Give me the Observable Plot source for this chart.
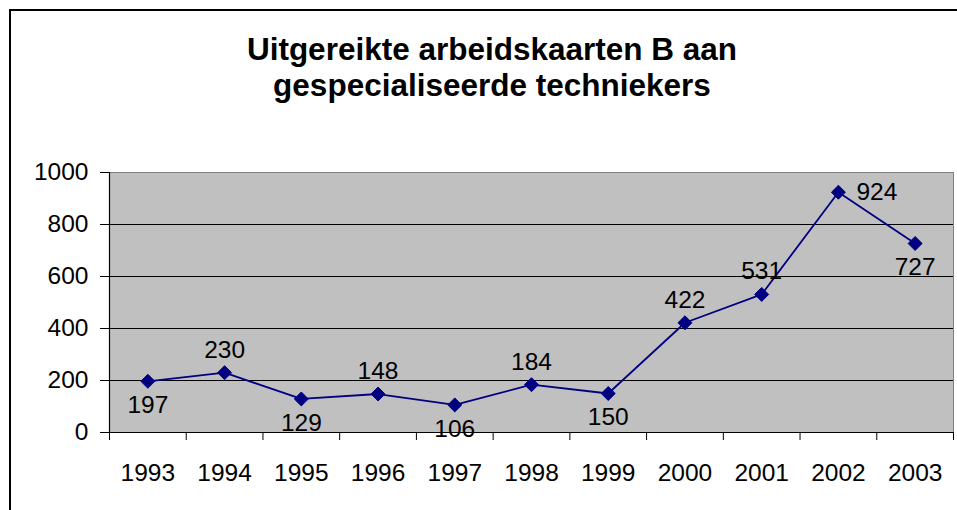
<!DOCTYPE html>
<html><head><meta charset="utf-8">
<script src="https://cdn.jsdelivr.net/npm/d3@7"></script>
<script src="https://cdn.jsdelivr.net/npm/@observablehq/plot@0.6"></script>
<style>
html,body{margin:0;padding:0;background:#fff;overflow:hidden;width:957px;height:510px;}
#frame{position:absolute;left:9px;top:9px;width:1000px;height:600px;border:2px solid #000;box-sizing:border-box;z-index:2;pointer-events:none;}
#title{position:absolute;left:0;width:984px;top:31px;text-align:center;font:bold 31.5px "Liberation Sans",Arial,sans-serif;line-height:36px;color:#000;}
#chart{position:absolute;left:0;top:150px;}
</style></head><body>
<div id="frame"></div>
<div id="title">Uitgereikte arbeidskaarten B aan<br>gespecialiseerde techniekers</div>
<div id="chart"></div>
<script>
const years = [1993, 1994, 1995, 1996, 1997, 1998, 1999, 2000, 2001, 2002, 2003];
const values = [197, 230, 129, 148, 106, 184, 150, 422, 531, 924, 727];
const labelPlacement = ["below", "above", "below", "above", "below", "above", "below", "above", "above", "right", "below"];
const yTicks = [0, 200, 400, 600, 800, 1000];

const data = years.map((year, i) => ({year, value: values[i], place: labelPlacement[i]}));
const xMin = years[0] - 0.5, xMax = years[years.length - 1] + 0.5;
const bounds = d3.range(years.length + 1).map(i => xMin + i);
const grid = yTicks.filter(t => t > 0 && t < 1000);
const navy = "#000080";
const font = "'Liberation Sans', Arial, sans-serif";

const chart = Plot.plot({
  width: 957,
  height: 360,
  marginLeft: 109,
  marginRight: 4,
  marginTop: 22,
  marginBottom: 78,
  style: {fontFamily: font, fontSize: "24px", background: "transparent", color: "#000"},
  x: {type: "linear", domain: [xMin, xMax]},
  y: {domain: [0, 1000]},
  marks: [
    Plot.frame({fill: "#C0C0C0"}),
    Plot.frame({stroke: "#808080"}),
    Plot.ruleY(grid, {stroke: "#000", strokeWidth: 1}),
    Plot.ruleX([xMin], {stroke: "#000", strokeWidth: 1.2}),
    Plot.ruleY([0], {stroke: "#000", strokeWidth: 1.2}),
    Plot.axisY({ticks: yTicks, tickSize: 9, tickPadding: 12, tickFormat: d => String(d), label: null, fontSize: 24.5}),
    Plot.axisX({ticks: bounds, tickSize: 8, tickFormat: () => "", label: null}),
    Plot.axisX({ticks: years, tickSize: 0, tickPadding: 31, tickFormat: d => String(d), label: null, fontSize: 24.5}),
    Plot.line(data, {x: "year", y: "value", stroke: navy, strokeWidth: 1.8}),
    Plot.dot(data, {x: "year", y: "value", symbol: "diamond2", r: 6.3, fill: navy, stroke: navy, strokeWidth: 1}),
    Plot.text(data.filter(d => d.place === "above"), {x: "year", y: "value", text: d => String(d.value), dy: -23, fontSize: 24.5, fill: "#000"}),
    Plot.text(data.filter(d => d.place === "below"), {x: "year", y: "value", text: d => String(d.value), dy: 24, fontSize: 24.5, fill: "#000"}),
    Plot.text(data.filter(d => d.place === "right"), {x: "year", y: "value", text: d => String(d.value), dx: 18, textAnchor: "start", fontSize: 24.5, fill: "#000"})
  ]
});
document.getElementById("chart").appendChild(chart);
</script>
</body></html>
